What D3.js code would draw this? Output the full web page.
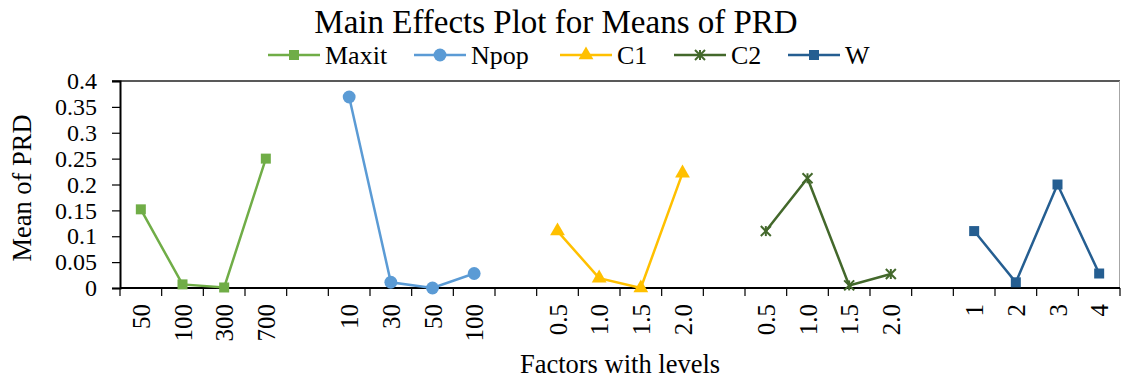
<!DOCTYPE html>
<html>
<head>
<meta charset="utf-8">
<script src="https://cdn.jsdelivr.net/npm/d3@7"></script>
<style>
  body { margin: 0; background: #fff; }
  text { font-family: "Liberation Serif", "Times New Roman", serif; fill: #000; }
</style>
</head>
<body>
<script>
// factors and their levels
const factors = ["Maxit", "Npop", "C1", "C2", "W"];
const colors = ["#70AD47", "#5B9BD5", "#FFC000", "#43682B", "#255E91"];
const symbols = ["square", "circle", "triangle", "star", "square"];
const levels = [
  ["50", "100", "300", "700"],
  ["10", "30", "50", "100"],
  ["0.5", "1.0", "1.5", "2.0"],
  ["0.5", "1.0", "1.5", "2.0"],
  ["1", "2", "3", "4"]
];
const means = [
  [0.152, 0.007, 0.001, 0.250],
  [0.369, 0.011, 0.000, 0.028],
  [0.110, 0.019, 0.000, 0.222],
  [0.110, 0.212, 0.005, 0.027],
  [0.110, 0.011, 0.200, 0.028]
];
const yTicks = [0, 0.05, 0.1, 0.15, 0.2, 0.25, 0.3, 0.35, 0.4];

const w = 1121, h = 383;
const margin = {top: 81, right: 1, bottom: 95, left: 120};

const svg = d3.select("body").append("svg")
  .attr("width", w).attr("height", h);

// category slots: 4 levels per factor, one blank slot between factors
let slots = [];
factors.forEach((f, i) => {
  levels[i].forEach((l, j) => slots.push(f + "|" + l));
  if (i < factors.length - 1) slots.push("gap" + i);
});

const x = d3.scaleBand()
  .domain(slots)
  .range([margin.left, w - margin.right]);

const y = d3.scaleLinear()
  .domain([0, 0.4])
  .range([h - margin.bottom, margin.top]);

// plot border (top / right)
svg.append("line")
  .attr("x1", margin.left - 8).attr("x2", w - margin.right)
  .attr("y1", margin.top).attr("y2", margin.top)
  .attr("stroke", "#222").attr("stroke-width", 1.5);
svg.append("line")
  .attr("x1", w - margin.right - 0.5).attr("x2", w - margin.right - 0.5)
  .attr("y1", margin.top).attr("y2", h - margin.bottom)
  .attr("stroke", "#a6a6a6").attr("stroke-width", 1);

// y axis
const yAxis = g => g
  .attr("transform", `translate(${margin.left},0)`)
  .call(d3.axisLeft(y).tickValues(yTicks).tickFormat(d => d3.format("")(+d.toFixed(2))).tickSize(8).tickPadding(15))
  .call(g => g.select(".domain").attr("stroke", "#000").attr("stroke-width", 2))
  .call(g => g.selectAll(".tick line").attr("stroke", "#000").attr("stroke-width", 1.2))
  .call(g => g.selectAll(".tick text")
    .attr("font-size", 24)
    .attr("font-family", "Liberation Serif")
    .attr("fill", "#000"));
svg.append("g").call(yAxis);

// x axis: tick lines at slot boundaries, labels at slot centres
const xg = svg.append("g").attr("transform", `translate(0,${h - margin.bottom})`);
xg.append("line")
  .attr("x1", margin.left).attr("x2", w - margin.right)
  .attr("stroke", "#000").attr("stroke-width", 2);
xg.selectAll(".bt")
  .data(slots.concat(["end"]))
  .enter().append("line")
  .attr("x1", (d, i) => margin.left + i * x.bandwidth())
  .attr("x2", (d, i) => margin.left + i * x.bandwidth())
  .attr("y1", 0).attr("y2", 8)
  .attr("stroke", "#000").attr("stroke-width", 1.2);
xg.selectAll(".lbl")
  .data(slots.filter(s => !s.startsWith("gap")))
  .enter().append("text")
  .attr("transform", d => `translate(${x(d) + x.bandwidth() / 2 + 9},16) rotate(-90)`)
  .attr("text-anchor", "end")
  .attr("font-size", 25)
  .text(d => d.split("|")[1]);

// axis titles
svg.append("text")
  .attr("x", 620).attr("y", 373)
  .attr("text-anchor", "middle")
  .attr("font-size", 26.5)
  .text("Factors with levels");
svg.append("text")
  .attr("transform", `translate(31,188) rotate(-90)`)
  .attr("text-anchor", "middle")
  .attr("font-size", 26.5)
  .text("Mean of PRD");

// title
svg.append("text")
  .attr("x", 556).attr("y", 33)
  .attr("text-anchor", "middle")
  .attr("font-size", 33)
  .text("Main Effects Plot for Means of PRD");

function symbolPath(type, size) {
  if (type === "square") return d3.symbol(d3.symbolSquare, size)();
  if (type === "circle") return d3.symbol(d3.symbolCircle, size)();
  if (type === "triangle") return d3.symbol(d3.symbolTriangle, size)();
  return null;
}
function drawMarker(g, type, color) {
  if (type === "star") {
    const r = 5;
    [[-r, -r, r, r], [-r, r, r, -r], [0, -r, 0, r]].forEach(s => {
      g.append("line")
        .attr("x1", s[0]).attr("y1", s[1]).attr("x2", s[2]).attr("y2", s[3])
        .attr("stroke", color).attr("stroke-width", 2);
    });
  } else {
    const size = type === "circle" ? 130 : type === "triangle" ? 95 : 100;
    g.append("path").attr("d", symbolPath(type, size)).attr("fill", color);
  }
}

// series
const line = d3.line().x(d => d[0]).y(d => d[1]);
factors.forEach((f, i) => {
  const pts = levels[i].map((l, j) => [x(f + "|" + l) + x.bandwidth() / 2, y(means[i][j])]);
  svg.append("path")
    .attr("d", line(pts))
    .attr("fill", "none")
    .attr("stroke", colors[i])
    .attr("stroke-width", 2.5);
  pts.forEach(p => {
    const g = svg.append("g").attr("transform", `translate(${p[0]},${p[1]})`);
    drawMarker(g, symbols[i], colors[i]);
  });
});

// legend
const legendX = [268, 414, 560, 674, 788];
factors.forEach((f, i) => {
  const g = svg.append("g").attr("transform", `translate(${legendX[i]},55)`);
  g.append("line").attr("x1", 0).attr("x2", 52)
    .attr("stroke", colors[i]).attr("stroke-width", 2.5);
  const m = g.append("g").attr("transform", "translate(26,0)");
  drawMarker(m, symbols[i], colors[i]);
  g.append("text").attr("x", 57).attr("y", 9)
    .attr("font-size", 26)
    .text(f);
});
</script>
</body>
</html>
